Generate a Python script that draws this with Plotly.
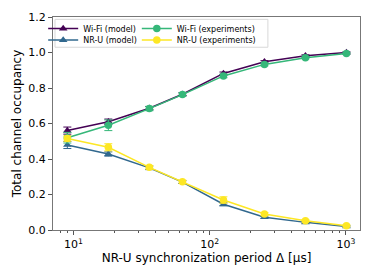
import plotly.graph_objects as go

periods = [9, 18, 36, 63, 126, 252, 504, 1008]

wifi_model = [0.56, 0.61, 0.686, 0.765, 0.882, 0.948, 0.982, 1.0]
wifi_model_err = [0.02, 0.015, 0.01, 0.008, 0.008, 0.006, 0.005, 0.004]
nru_model = [0.479, 0.428, 0.35, 0.27, 0.145, 0.072, 0.043, 0.02]
nru_model_err = [0.02, 0.012, 0.01, 0.008, 0.008, 0.006, 0.005, 0.004]
wifi_exp = [0.52, 0.59, 0.684, 0.763, 0.868, 0.933, 0.971, 0.995]
wifi_exp_err = [0.03, 0.03, 0.012, 0.01, 0.01, 0.008, 0.006, 0.005]
nru_exp = [0.515, 0.466, 0.353, 0.272, 0.169, 0.09, 0.052, 0.024]
nru_exp_err = [0.015, 0.02, 0.01, 0.008, 0.018, 0.008, 0.006, 0.005]

names = ["Wi-Fi (model)", "NR-U (model)", "Wi-Fi (experiments)", "NR-U (experiments)"]
colors = ["#440154", "#31688e", "#35b779", "#fde725"]

series = [
    (names[0], wifi_model, wifi_model_err, colors[0], "triangle-up", "legend"),
    (names[1], nru_model, nru_model_err, colors[1], "triangle-up", "legend2"),
    (names[2], wifi_exp, wifi_exp_err, colors[2], "circle", "legend3"),
    (names[3], nru_exp, nru_exp_err, colors[3], "circle", "legend4"),
]

fig = go.Figure()
for name, ys, errs, col, sym, leg in series:
    fig.add_trace(go.Scatter(
        x=periods, y=ys, name=name, mode="lines+markers",
        line=dict(color=col, width=1.5),
        marker=dict(symbol=sym, size=7.5, color=col),
        error_y=dict(type="data", array=errs, color=col, thickness=1, width=4),
        legend=leg, showlegend=True,
    ))

font = "DejaVu Sans"

def leg(x, y):
    return dict(x=x, y=y, xanchor="left", yanchor="middle",
                xref="paper", yref="paper",
                bgcolor="rgba(0,0,0,0)", font=dict(size=8, family=font),
                borderwidth=0, tracegroupgap=0, itemwidth=30,
                visible=True)

fig.update_layout(
    width=374, height=280,
    margin=dict(l=53, r=14, t=17, b=50, autoexpand=False),
    paper_bgcolor="white", plot_bgcolor="white",
    font=dict(family=font, size=11, color="black"),
    showlegend=True,
    legend=leg(-0.032, 0.9456),
    legend2=leg(-0.032, 0.892),
    legend3=leg(0.273, 0.9456),
    legend4=leg(0.273, 0.892),
    shapes=[dict(type="rect", xref="paper", yref="paper",
                 x0=0.0065, x1=0.70, y0=0.858, y1=0.989,
                 line=dict(color="#d8d8d8", width=1))],
)
fig.update_xaxes(
    type="log", range=[0.849, 3.103], automargin=False,
    tickvals=[10, 100, 1000],
    ticktext=["10<sup>1</sup>", "10<sup>2</sup>", "10<sup>3</sup>"],
    ticks="outside", ticklen=4, tickcolor="#555555",
    minor=dict(ticks="outside", ticklen=2, tickcolor="#555555",
               tickvals=[8, 9, 20, 30, 40, 50, 60, 70, 80, 90,
                         200, 300, 400, 500, 600, 700, 800, 900]),
    showline=True, linecolor="#777777", linewidth=1, mirror=True,
    showgrid=False, zeroline=False,
    title=dict(text="NR-U synchronization period Δ [μs]", font=dict(size=12), standoff=2),
    tickfont=dict(size=11),
)
fig.update_yaxes(
    range=[0, 1.2], automargin=False,
    tickvals=[0, 0.2, 0.4, 0.6, 0.8, 1.0, 1.2],
    ticktext=["0.0", "0.2", "0.4", "0.6", "0.8", "1.0", "1.2"],
    ticks="outside", ticklen=4, tickcolor="#555555",
    showline=True, linecolor="#777777", linewidth=1, mirror=True,
    showgrid=False, zeroline=False,
    title=dict(text="Total channel occupancy", font=dict(size=12), standoff=4),
    tickfont=dict(size=11),
)

fig.write_html("out.html", config={"displayModeBar": False},
               post_script="document.body.style.margin='0';")
